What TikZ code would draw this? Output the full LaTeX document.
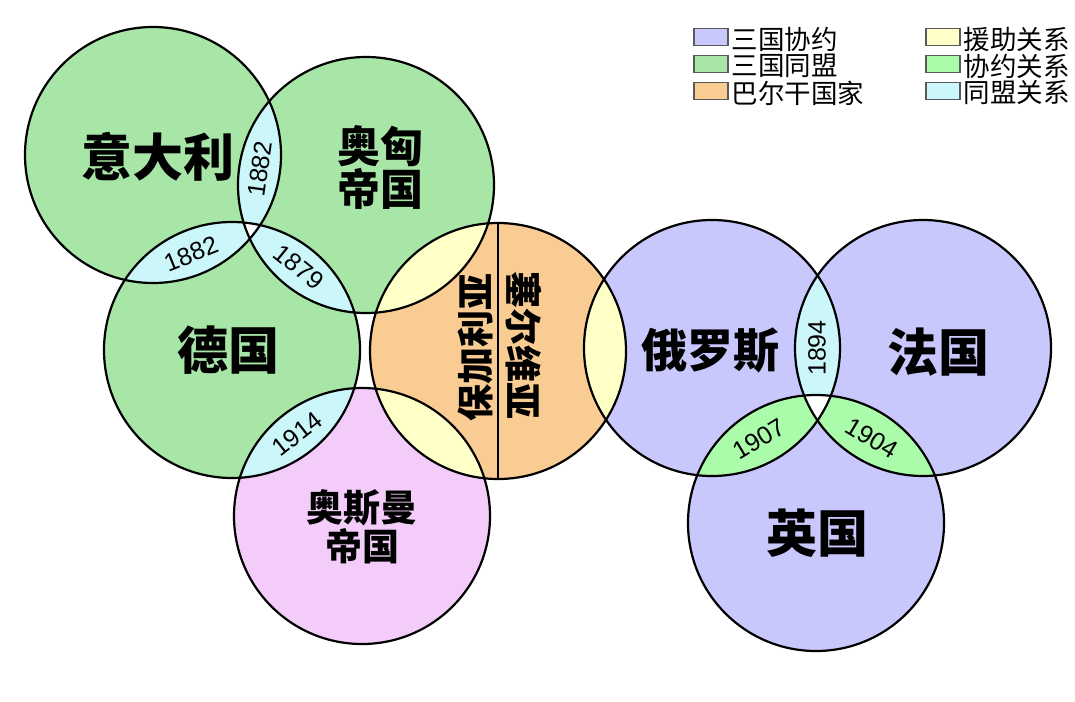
\documentclass[tikz,border=0pt]{standalone}
\usepackage{fontspec}
\newfontfamily\cjk{Noto Sans CJK SC}
\newfontfamily\numf{Liberation Sans}
\definecolor{cgreen}{RGB}{168,230,168}
\definecolor{cblue}{RGB}{200,200,252}
\definecolor{corange}{RGB}{248,204,146}
\definecolor{cpink}{RGB}{243,204,250}
\definecolor{cyellow}{RGB}{255,255,200}
\definecolor{cgreenrel}{RGB}{170,252,170}
\definecolor{ccyan}{RGB}{204,247,250}
\begin{document}
\begin{tikzpicture}[x=1pt,y=-1pt,
  ring/.style={draw=black,line width=2.2pt},
  cname/.style={inner sep=0pt,align=center},
  yr/.style={inner sep=0pt,font=\numf\fontsize{25}{25}\selectfont},
  legbox/.style={draw=black!65,line width=1.5pt,minimum width=34pt,minimum height=17pt,inner sep=0pt},
  legtxt/.style={anchor=west,inner sep=0pt,font=\cjk\fontsize{26.5}{26.5}\selectfont}]
\def\R{128pt}
\useasboundingbox (0,0) rectangle (1075,701);
\fill[white] (0,0) rectangle (1075,701);
\coordinate (It) at (153,155);
\coordinate (AH) at (366,185);
\coordinate (De) at (232,350);
\coordinate (BS) at (498,351);
\coordinate (Ot) at (362,516);
\coordinate (Ru) at (712,348);
\coordinate (Fr) at (923,348);
\coordinate (GB) at (816,523);
% base fills
\fill[cgreen] (It) circle (\R);
\fill[cgreen] (AH) circle (\R);
\fill[cgreen] (De) circle (\R);
\fill[corange] (BS) circle (\R);
\fill[cpink] (Ot) circle (\R);
\fill[cblue] (Ru) circle (\R);
\fill[cblue] (Fr) circle (\R);
\fill[cblue] (GB) circle (\R);
% lenses
\begin{scope}\clip (It) circle (\R); \fill[ccyan] (AH) circle (\R);\end{scope}
\begin{scope}\clip (It) circle (\R); \fill[ccyan] (De) circle (\R);\end{scope}
\begin{scope}\clip (AH) circle (\R); \fill[ccyan] (De) circle (\R);\end{scope}
\begin{scope}\clip (De) circle (\R); \fill[ccyan] (Ot) circle (\R);\end{scope}
\begin{scope}\clip (BS) circle (\R); \fill[cyellow] (AH) circle (\R);\end{scope}
\begin{scope}\clip (BS) circle (\R); \fill[cyellow] (Ot) circle (\R);\end{scope}
\begin{scope}\clip (BS) circle (\R); \fill[cyellow] (Ru) circle (\R);\end{scope}
\begin{scope}\clip (Ru) circle (\R); \fill[ccyan] (Fr) circle (\R);\end{scope}
\begin{scope}\clip (Ru) circle (\R); \fill[cgreenrel] (GB) circle (\R);\end{scope}
\begin{scope}\clip (Fr) circle (\R); \fill[cgreenrel] (GB) circle (\R);\end{scope}
% triple regions
\begin{scope}\clip (It) circle (\R); \clip (AH) circle (\R); \fill[white] (De) circle (\R);\end{scope}
\begin{scope}\clip (Ru) circle (\R); \clip (Fr) circle (\R); \fill[white] (GB) circle (\R);\end{scope}
% outlines
\foreach \c in {It,AH,De,BS,Ot,Ru,Fr,GB} \draw[ring] (\c) circle (\R);
\coordinate (BStop) at (498,223);
\coordinate (BSbot) at (498,479);
\draw[ring] (BStop) -- (BSbot);
% country names
\node[cname,font=\cjk\bfseries\fontsize{51}{51}\selectfont] (tIt) at (158,157) {意大利};
\node[cname,font=\cjk\bfseries\fontsize{43}{43}\selectfont] (tAH) at (380,167) {奥匈\\帝国};
\node[cname,font=\cjk\bfseries\fontsize{51}{51}\selectfont] (tDe) at (228,350) {德国};
\node[cname,font=\cjk\bfseries\fontsize{37}{39}\selectfont] (tOt) at (362,527) {奥斯曼\\帝国};
\node[cname,font=\cjk\bfseries\fontsize{46}{46}\selectfont] (tRu) at (710,350) {俄罗斯};
\node[cname,font=\cjk\bfseries\fontsize{51}{51}\selectfont] (tFr) at (938,352) {法国};
\node[cname,font=\cjk\bfseries\fontsize{51}{51}\selectfont] (tGB) at (817,533) {英国};
\node[cname,rotate=90,font=\cjk\bfseries\fontsize{37}{37}\selectfont] (tBu) at (475,347) {保加利亚};
\node[cname,rotate=-90,font=\cjk\bfseries\fontsize{37}{37}\selectfont] (tSe) at (524,345) {塞尔维亚};
% years
\node[yr,rotate=82] (y1) at (260,169) {1882};
\node[yr,rotate=22] (y2) at (191,254) {1882};
\node[yr,rotate=-39] (y3) at (299,267) {1879};
\node[yr,rotate=38] (y4) at (297,434) {1914};
\node[yr,rotate=90] (y5) at (817,348) {1894};
\node[yr,rotate=31] (y6) at (759,439) {1907};
\node[yr,rotate=-31] (y7) at (872,438) {1904};
% legend
\node[legbox,fill=cblue] (k1) at (711,37) {};
\node[legbox,fill=cgreen] (k2) at (711,64) {};
\node[legbox,fill=corange] (k3) at (711,91) {};
\node[legbox,fill=cyellow] (k4) at (943,37) {};
\node[legbox,fill=cgreenrel] (k5) at (943,64) {};
\node[legbox,fill=ccyan] (k6) at (943,91) {};
\node[legtxt] (l1) at ([xshift=3pt,yshift=-2pt]k1.east) {三国协约};
\node[legtxt] (l2) at ([xshift=3pt,yshift=-2pt]k2.east) {三国同盟};
\node[legtxt] (l3) at ([xshift=3pt,yshift=-2pt]k3.east) {巴尔干国家};
\node[legtxt] (l4) at ([xshift=3pt,yshift=-2pt]k4.east) {援助关系};
\node[legtxt] (l5) at ([xshift=3pt,yshift=-2pt]k5.east) {协约关系};
\node[legtxt] (l6) at ([xshift=3pt,yshift=-2pt]k6.east) {同盟关系};
\end{tikzpicture}
\end{document}
